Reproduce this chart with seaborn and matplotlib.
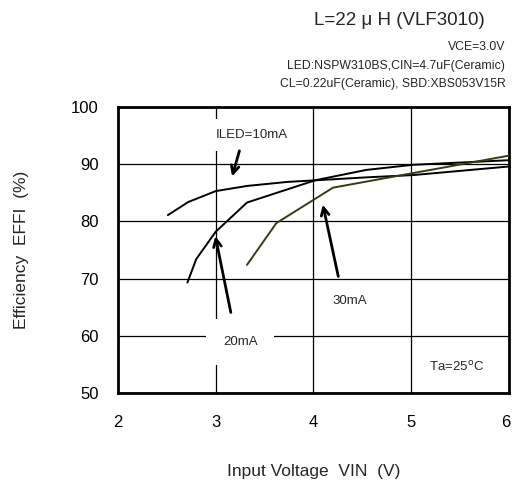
import matplotlib
matplotlib.use("Agg")
import matplotlib.pyplot as plt
import matplotlib.transforms as mtransforms
import seaborn as sns
import pandas as pd

# Data
vin_10 = [2.51, 2.72, 3.0, 3.32, 3.73, 4.54, 5.02, 6.0]
eff_10 = [81.1, 83.4, 85.3, 86.2, 86.9, 87.7, 88.1, 89.6]
vin_20 = [2.71, 2.8, 3.0, 3.32, 4.02, 4.54, 5.02, 6.0]
eff_20 = [69.3, 73.4, 78.2, 83.3, 87.2, 89.0, 89.9, 90.7]
vin_30 = [3.32, 3.62, 4.2, 6.0]
eff_30 = [72.4, 79.7, 85.9, 91.5]
x_ticks = [2, 3, 4, 5, 6]
y_ticks = [50, 60, 70, 80, 90, 100]

df = pd.concat([
    pd.DataFrame({"vin": vin_10, "eff": eff_10, "iled": "10mA"}),
    pd.DataFrame({"vin": vin_20, "eff": eff_20, "iled": "20mA"}),
    pd.DataFrame({"vin": vin_30, "eff": eff_30, "iled": "30mA"}),
])

sns.set_style("white")
plt.rcParams["font.family"] = ["Liberation Sans", "DejaVu Sans"]

fig = plt.figure(figsize=(5.12, 4.86), dpi=100)
ax = fig.add_axes([0.2305, 0.1914, 0.7635, 0.5884])

ax.set_xlim(2, 6)
ax.set_ylim(50, 100)
ax.set_xticks(x_ticks)
ax.set_yticks(y_ticks)
ax.grid(True, color="black", linewidth=0.9)
ax.set_axisbelow(True)

sns.lineplot(data=df, x="vin", y="eff", hue="iled", sort=False, estimator=None,
             palette={"10mA": "black", "20mA": "black", "30mA": "#3a3a12"},
             linewidth=1.4, legend=False, ax=ax, zorder=3)

for s in ax.spines.values():
    s.set_visible(True)
    s.set_color("black")
    s.set_linewidth(2)
ax.tick_params(axis="y", length=0, labelsize=12, pad=14, colors="black")
ax.tick_params(axis="x", length=0, labelsize=12, pad=16, colors="black")
ax.set_xlabel("Input Voltage  VIN  (V)", fontsize=12.5, labelpad=24)
ax.set_ylabel("Efficiency  EFFI  (%)", fontsize=12.5, labelpad=30)

# keep the last x tick label inside the figure
last = ax.get_xticklabels()[-1]
last.set_transform(last.get_transform() + mtransforms.ScaledTranslation(-3 / 100, 0, fig.dpi_scale_trans))

ax.text(3.37, 95.1, "ILED=10mA", fontsize=9.5, ha="center", va="center",
        bbox=dict(facecolor="white", edgecolor="none", pad=7), zorder=4)
ax.text(3.25, 58.9, "20mA", fontsize=9.5, ha="center", va="center",
        bbox=dict(facecolor="white", edgecolor="none", pad=12), zorder=4)
ax.text(4.37, 66.0, "30mA", fontsize=9.5, ha="center", va="center",
        bbox=dict(facecolor="white", edgecolor="none", pad=10), zorder=4)
ax.text(5.46, 54.6, "Ta=25$^{\\rm o}$C", fontsize=9.5, ha="center", va="center", zorder=4)

arrow = dict(arrowstyle="->", color="black", lw=2, mutation_scale=14)
ax.annotate("", xy=(3.16, 87.4), xytext=(3.25, 92.8), arrowprops=arrow, zorder=5)
ax.annotate("", xy=(2.99, 77.9), xytext=(3.16, 63.6), arrowprops=arrow, zorder=5)
ax.annotate("", xy=(4.09, 83.4), xytext=(4.26, 69.9), arrowprops=arrow, zorder=5)

fig.text(0.781, 0.958, "L=22 \u03bc H (VLF3010)", fontsize=13.5, ha="center", va="center")
fig.text(0.987, 0.903, "VCE=3.0V", fontsize=8.8, ha="right", va="center")
fig.text(0.987, 0.864, "LED:NSPW310BS,CIN=4.7uF(Ceramic)", fontsize=8.8, ha="right", va="center")
fig.text(0.987, 0.827, "CL=0.22uF(Ceramic), SBD:XBS053V15R", fontsize=8.8, ha="right", va="center")

fig.savefig("out.png", dpi=100)
